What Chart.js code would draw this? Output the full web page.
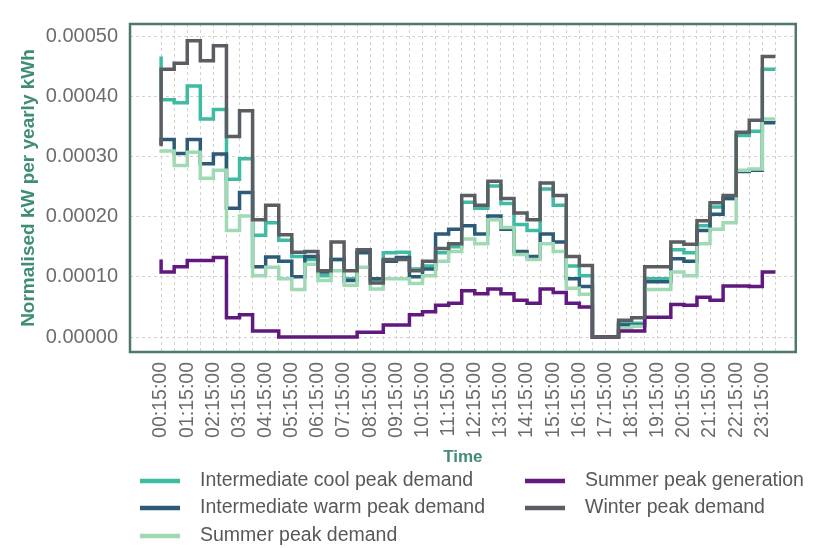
<!DOCTYPE html>
<html>
<head>
<meta charset="utf-8">
<script src="https://cdn.jsdelivr.net/npm/chart.js@4.4.1/dist/chart.umd.min.js"></script>
<style>
  html, body { margin: 0; padding: 0; background: #ffffff; }
  #wrap { width: 822px; height: 548px; }
</style>
</head>
<body>
<div id="wrap"><canvas id="chart" width="822" height="548"></canvas></div>
<script>
// Half-hourly time slots (interval mid-points)
const times = [
  '00:15:00','00:45:00','01:15:00','01:45:00','02:15:00','02:45:00','03:15:00','03:45:00',
  '04:15:00','04:45:00','05:15:00','05:45:00','06:15:00','06:45:00','07:15:00','07:45:00',
  '08:15:00','08:45:00','09:15:00','09:45:00','10:15:00','10:45:00','11:15:00','11:45:00',
  '12:15:00','12:45:00','13:15:00','13:45:00','14:15:00','14:45:00','15:15:00','15:45:00',
  '16:15:00','16:45:00','17:15:00','17:45:00','18:15:00','18:45:00','19:15:00','19:45:00',
  '20:15:00','20:45:00','21:15:00','21:45:00','22:15:00','22:45:00','23:15:00','23:45:00'
];

// Normalised kW per yearly kWh, one value per slot
const intermediateCool = [0.000466,0.000394,0.000389,0.000417,0.000362,0.000378,0.000262,0.000296,0.000169,0.000190,0.000161,0.000134,0.000129,0.000102,0.000129,0.000097,0.000143,0.000095,0.000140,0.000141,0.000113,0.000118,0.000140,0.000150,0.000224,0.000214,0.000251,0.000222,0.000187,0.000177,0.000246,0.000219,0.000118,0.000102,0,0,0.000023,0.000023,0.000097,0.000097,0.000145,0.000140,0.000185,0.000216,0.000230,0.000335,0.000342,0.000445];
const intermediateWarm = [0.000320,0.000328,0.000305,0.000328,0.000288,0.000304,0.000214,0.000240,0.000117,0.000133,0.000126,0.000100,0.000134,0.000108,0.000129,0.000094,0.000140,0.000097,0.000126,0.000132,0.000100,0.000113,0.000171,0.000179,0.000185,0.000171,0.000201,0.000179,0.000142,0.000134,0.000171,0.000158,0.000097,0.000084,0,0,0.000020,0.000020,0.000092,0.000092,0.000130,0.000126,0.000177,0.000204,0.000230,0.000275,0.000277,0.000356];
const summerDemand = [0.000312,0.000309,0.000285,0.000307,0.000264,0.000277,0.000177,0.000201,0.000102,0.000116,0.000097,0.000079,0.000121,0.000094,0.000110,0.000086,0.000116,0.000080,0.000097,0.000097,0.000089,0.000102,0.000126,0.000142,0.000163,0.000155,0.000195,0.000182,0.000137,0.000129,0.000155,0.000142,0.000081,0.000071,0,0,0.000015,0.000018,0.000079,0.000079,0.000108,0.000102,0.000155,0.000179,0.000190,0.000277,0.000279,0.000362];
const summerGeneration = [0.000129,0.000108,0.000117,0.000127,0.000127,0.000132,0.000032,0.000037,0.000010,0.000010,0,0,0,0,0,0,0.000008,0.000008,0.000020,0.000020,0.000037,0.000042,0.000053,0.000056,0.000077,0.000072,0.000080,0.000072,0.000061,0.000056,0.000080,0.000074,0.000056,0.000050,0,0,0.000010,0.000010,0.000033,0.000033,0.000054,0.000053,0.000066,0.000061,0.000085,0.000085,0.000084,0.000108];
const winterDemand = [0.000317,0.000445,0.000455,0.000492,0.000459,0.000484,0.000333,0.000376,0.000195,0.000219,0.000170,0.000141,0.000142,0.000110,0.000158,0.000110,0.000145,0.000090,0.000129,0.000129,0.000110,0.000126,0.000147,0.000155,0.000235,0.000219,0.000259,0.000230,0.000206,0.000195,0.000256,0.000235,0.000134,0.000119,0,0,0.000028,0.000032,0.000117,0.000117,0.000158,0.000154,0.000193,0.000223,0.000235,0.000340,0.000360,0.000466];

const seriesNames = [
  'Intermediate cool peak demand',
  'Intermediate warm peak demand',
  'Summer peak demand',
  'Summer peak generation',
  'Winter peak demand'
];
const seriesValues = [intermediateCool, intermediateWarm, summerDemand, summerGeneration, winterDemand];
const seriesColors = ['#3fbba3', '#2c5b77', '#9fdab4', '#62197f', '#5a5d62'];

const yTicks = [0, 0.0001, 0.0002, 0.0003, 0.0004, 0.0005];

const FONT = "'Liberation Sans', Arial, Helvetica, sans-serif";
const TITLE_GREEN = '#3f8c77';
const TICK_GREY = '#6c6c6c';

const datasets = seriesValues.map((vals, s) => ({
  label: seriesNames[s],
  data: vals.map((v, i) => ({ x: i, y: v })),
  borderColor: seriesColors[s],
  backgroundColor: seriesColors[s],
  borderWidth: 3.5,
  pointRadius: 0,
  stepped: 'after',
  fill: false,
  order: seriesValues.length - 1 - s
}));

// Box around the plotting area
const frame = {
  id: 'frame',
  afterDatasetsDraw(chart) {
    const { ctx, chartArea: a } = chart;
    ctx.save();
    ctx.strokeStyle = '#4b7a6c';
    ctx.lineWidth = 2.5;
    ctx.strokeRect(a.left, a.top, a.right - a.left, a.bottom - a.top);
    ctx.restore();
  }
};

// Two-column legend below the axis title
const columnLegend = {
  id: 'columnLegend',
  afterDraw(chart) {
    const { ctx } = chart;
    const slots = [
      [0, 140, 481], [1, 140, 508], [2, 140, 536],
      [3, 525, 481], [4, 525, 508]
    ];
    ctx.save();
    ctx.font = '19.5px ' + FONT;
    ctx.textBaseline = 'middle';
    ctx.textAlign = 'left';
    slots.forEach(([s, x, y]) => {
      const ds = chart.data.datasets[s];
      ctx.strokeStyle = ds.borderColor;
      ctx.lineWidth = 4.5;
      ctx.beginPath();
      ctx.moveTo(x, y);
      ctx.lineTo(x + 40, y);
      ctx.stroke();
      ctx.fillStyle = '#585858';
      ctx.fillText(ds.label, x + 60, y);
    });
    ctx.restore();
  }
};

new Chart(document.getElementById('chart'), {
  type: 'line',
  data: { datasets },
  plugins: [frame, columnLegend],
  options: {
    responsive: false,
    animation: false,
    devicePixelRatio: 1,
    layout: { padding: { top: 14, right: 13, bottom: 80, left: 0 } },
    plugins: { legend: { display: false }, tooltip: { enabled: false } },
    scales: {
      x: {
        type: 'linear',
        min: -2.38,
        max: 48.56,
        afterFit(scale) { scale.height = 116; },
        afterBuildTicks(scale) {
          scale.ticks = scale.ticks.filter(t => Number.isInteger(t.value));
        },
        ticks: {
          stepSize: 1,
          includeBounds: false,
          autoSkip: false,
          minRotation: 90,
          maxRotation: 90,
          padding: 10,
          color: TICK_GREY,
          font: { family: FONT, size: 19.5 },
          callback: (v) => (v >= 0 && v < times.length && v % 2 === 0) ? times[v] : ''
        },
        grid: {
          drawTicks: false,
          lineWidth: 1,
          color: (c) => (c.tick && c.tick.value >= 0 && c.tick.value < times.length) ? '#d2d2d2' : 'rgba(0,0,0,0)'
        },
        border: { display: false, dash: [3, 3] },
        title: {
          display: true,
          text: 'Time',
          color: TITLE_GREEN,
          font: { family: FONT, size: 17, weight: 'bold', lineHeight: 1.2 },
          padding: { top: 0, bottom: 0 }
        }
      },
      y: {
        type: 'linear',
        min: -0.0000248,
        max: 0.00052,
        afterFit(scale) { scale.width = 130; },
        afterBuildTicks(scale) {
          scale.ticks = yTicks.map(v => ({ value: v }));
        },
        ticks: {
          padding: 12,
          color: TICK_GREY,
          font: { family: FONT, size: 20 },
          callback: (v) => Number(v).toFixed(5)
        },
        grid: { drawTicks: false, color: '#d2d2d2', lineWidth: 1 },
        border: { display: false, dash: [3, 3] },
        title: {
          display: true,
          text: 'Normalised kW per yearly kWh',
          color: TITLE_GREEN,
          font: { family: FONT, size: 19, weight: 'bold', lineHeight: 1.2 },
          padding: { top: 17, bottom: 0 }
        }
      }
    }
  }
});
</script>
</body>
</html>
